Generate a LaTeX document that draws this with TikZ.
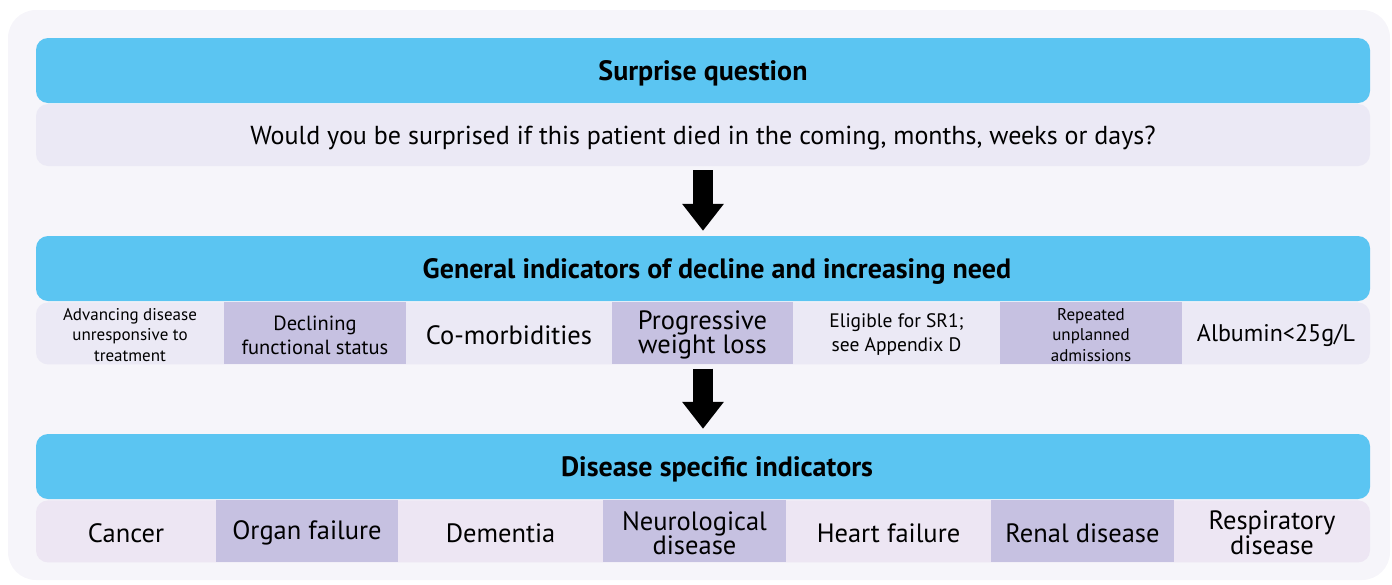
\documentclass[tikz,border=0pt]{standalone}
\usepackage{fontspec}
\setmainfont{PT Sans}
\usetikzlibrary{arrows.meta}
\usetikzlibrary{positioning}
\definecolor{hdrblue}{HTML}{5BC5F2}
\definecolor{rowlav}{HTML}{EBE9F5}
\definecolor{rowpink}{HTML}{EDE6F3}
\definecolor{celldark}{HTML}{C6C1E1}
\definecolor{pagebg}{HTML}{F6F5FA}

\begin{document}
\begin{tikzpicture}[
  x=1pt, y=-1pt,
  header/.style={rectangle,rounded corners=12pt,fill=hdrblue,
    minimum width=1334pt,minimum height=65pt,inner sep=0pt,text depth=0pt,
    font=\fontsize{28}{30}\selectfont\bfseries},
  row/.style={rectangle,rounded corners=12pt,fill=#1,
    minimum width=1334pt,minimum height=62pt,inner sep=0pt},
  darkcell/.style={rectangle,fill=celldark,minimum height=62pt,
    inner sep=0pt,align=center},
  cell/.style={inner sep=0pt,align=center,yshift=-2pt},
  bigarrow/.style={line width=20pt,shorten <=4pt,shorten >=5pt,
    -{Triangle[width=40pt,length=27pt]}},
  fa/.style={font=\fontsize{17}{20.5}\selectfont},
  fb/.style={font=\fontsize{20.5}{24}\selectfont},
  fc/.style={font=\fontsize{26.5}{24.5}\selectfont}
]

% --- page background ---
\fill[pagebg,rounded corners=28pt] (8,10) rectangle (1390,580);
\useasboundingbox (0,0) rectangle (1392,584);

% --- Surprise question ---
\node[row=rowlav] (qbox) at (703,135) {};
\node[header] (h1) at (703,70.5) {Surprise question};
\node[cell,font=\fontsize{26}{28}\selectfont] (q) at (703,136) {Would you be surprised if this patient died in the coming, months, weeks or days?};

% --- General indicators ---
\node[header] (h2) at (703,268.5) {\hspace*{28pt}General indicators of decline and increasing need};
\node[row=rowlav,below=1pt of h2] (grow) {};
\node[darkcell,minimum width=182pt] (g2) at (315,333) {};
\node[darkcell,minimum width=181pt] (g4) at (702.5,333) {};
\node[darkcell,minimum width=182pt] (g6) at (1091,333) {};
\node[cell,fa] (t1) at (130,333) {Advancing disease\\unresponsive to\\treatment};
\node[cell,fb] (t2) at (g2) {Declining\\functional status};
\node[cell,fc] (t3) at (509,333) {Co-morbidities};
\node[cell,fc] (t4) at (g4) {Progressive\\weight loss};
\node[cell,font=\fontsize{19.5}{24}\selectfont] (t5) at (896.5,333) {Eligible for SR1;\\see Appendix D};
\node[cell,fa] (t6) at (g6) {Repeated\\unplanned\\admissions};
\node[cell,font=\fontsize{24}{24}\selectfont] (t7) at (1276,333) {Albumin<25g/L};

% --- Disease specific ---
\node[header] (h3) at (703,466.5) {\hspace*{28pt}Disease specific indicators};
\node[row=rowpink,below=1pt of h3] (drow) {};
\node[darkcell,minimum width=182pt] (d2) at (307,531) {};
\node[darkcell,minimum width=183pt] (d4) at (694.5,531) {};
\node[darkcell,minimum width=183pt] (d6) at (1082.5,531) {};
\node[cell,fc] (c1) at (126,531) {Cancer};
\node[cell,fc] (c2) at (d2) {Organ failure};
\node[cell,fc] (c3) at (500.5,531) {Dementia};
\node[cell,fc] (c4) at (d4) {Neurological\\disease};
\node[cell,fc] (c5) at (888.5,531) {Heart failure};
\node[cell,fc] (c6) at (d6) {Renal disease};
\node[cell,fc] (c7) at (1272,531) {Respiratory\\disease};

% --- arrows ---
\draw[bigarrow] (qbox.south) -- (h2.north);
\draw[bigarrow] (grow.south) -- (h3.north);

\end{tikzpicture}
\end{document}
